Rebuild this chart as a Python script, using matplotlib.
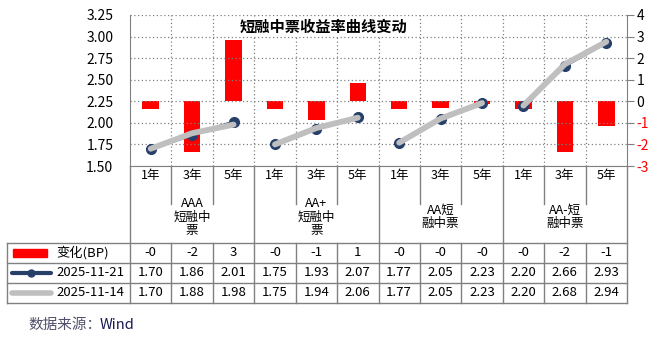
import matplotlib
matplotlib.use("Agg")
import matplotlib.pyplot as plt
from matplotlib.lines import Line2D
from matplotlib.patches import Rectangle
from matplotlib.transforms import blended_transform_factory

plt.rcParams['font.family'] = ['Noto Sans CJK SC', 'DejaVu Sans']

# data
tenors = ['1年', '3年', '5年']
groups = ['AAA\n短融中\n票', 'AA+\n短融中\n票', 'AA短\n融中票', 'AA-短\n融中票']
change_bp = [-0.37, -2.33, 2.86, -0.37, -0.88, 0.86,
             -0.37, -0.33, -0.14, -0.37, -2.33, -1.13]
yield_1121 = [1.70, 1.86, 2.01, 1.75, 1.93, 2.07,
              1.77, 2.05, 2.23, 2.20, 2.66, 2.93]
yield_1114 = [1.70, 1.88, 1.98, 1.75, 1.94, 2.06,
              1.77, 2.05, 2.23, 2.20, 2.68, 2.94]
bp_ticks = [-3, -2, -1, 0, 1, 2, 3, 4]
yield_ticks = [1.50, 1.75, 2.00, 2.25, 2.50, 2.75, 3.00, 3.25]
label_bp = '变化(BP)'
label_1121 = '2025-11-21'
label_1114 = '2025-11-14'
title = '短融中票收益率曲线变动'
source = '数据来源：'
source_name = 'Wind'

RED = '#FF0000'
NAVY = '#26406A'
GREY = '#BFBFBF'
LINE = '#808080'

W, H = 658, 344
fig = plt.figure(figsize=(W / 100, H / 100), dpi=100)


def fx(px):
    return px / W


def fy(py):
    return 1 - py / H


# plot area in pixels: x 130..627, y 15..166
ax = fig.add_axes([fx(130), fy(166), fx(627) - fx(130), fy(15) - fy(166)])
n = len(change_bp)
xs = list(range(n))

# bars (right axis scale)
ax.bar(xs, change_bp, width=0.4, color=RED, zorder=2)
ax.set_ylim(-3, 4)
ax.set_xlim(-0.5, n - 0.5)
ax.set_xticks([])

# lines (left axis scale)
ax2 = ax.twinx()
ax2.set_ylim(1.5, 3.25)

ax.yaxis.tick_right()
ax.set_yticks(bp_ticks)
ax.set_yticklabels([str(v) for v in bp_ticks])
ax.tick_params(axis='y', labelsize=10, length=5, color=LINE, pad=2)
for t, v in zip(ax.get_yticklabels(), bp_ticks):
    if v < 0:
        t.set_color(RED)
for s in ['top', 'left', 'bottom']:
    ax.spines[s].set_visible(False)
ax.spines['right'].set_color(LINE)

ax2.yaxis.tick_left()
ax2.set_yticks(yield_ticks)
ax2.set_yticklabels(['%.2f' % v for v in yield_ticks])
ax2.tick_params(axis='y', labelsize=10, length=0, pad=12)
for s in ['top', 'right']:
    ax2.spines[s].set_visible(False)
ax2.spines['left'].set_color(LINE)
ax2.spines['bottom'].set_color(LINE)

# dotted grid
for v in yield_ticks:
    ax2.axhline(v, color=LINE, lw=0.9, ls=(0, (1, 2)), zorder=0)
for i in range(n - 1):
    ax.axvline(i + 0.5, color=LINE, lw=0.9, ls=(0, (1, 2)), zorder=0)

for g in range(len(groups)):
    idx = slice(3 * g, 3 * g + 3)
    ax2.plot(xs[idx], yield_1121[idx], color=NAVY, lw=2.2, marker='o',
             ms=7, mfc=NAVY, mec=NAVY, zorder=3)
    ax2.plot(xs[idx], yield_1114[idx], color=GREY, lw=4.2,
             solid_capstyle='round', zorder=4)

fig.text(fx(323), fy(27), title, ha='center', va='center', fontsize=11,
         fontweight='bold', zorder=5,
         bbox=dict(facecolor='white', edgecolor='none', pad=1))

# data table under the chart
tr = blended_transform_factory(ax.transData, fig.transFigure)


def hline(x0, x1, py):
    fig.add_artist(Line2D([fx(x0), fx(x1)], [fy(py), fy(py)],
                          color=LINE, lw=1))


def vline_data(x, py0, py1):
    fig.add_artist(Line2D([x, x], [fy(py0), fy(py1)], color=LINE, lw=1,
                          transform=tr))


for py in [243, 263, 283, 303]:
    hline(7, 627, py)
fig.add_artist(Line2D([fx(7), fx(7)], [fy(243), fy(303)], color=LINE, lw=1))
vline_data(-0.5, 166, 303)
vline_data(n - 0.5, 166, 303)
for i in range(n - 1):
    if (i + 1) % 3 == 0:
        vline_data(i + 0.5, 166, 303)
    else:
        vline_data(i + 0.5, 166, 204)
        vline_data(i + 0.5, 243, 303)

for i in xs:
    fig.text(i, fy(176), tenors[i % 3], transform=tr, ha='center',
             va='center', fontsize=9)
    fig.text(i, fy(253), '%.0f' % change_bp[i], transform=tr, ha='center',
             va='center', fontsize=9.5)
    fig.text(i, fy(273), '%.2f' % yield_1121[i], transform=tr, ha='center',
             va='center', fontsize=9.5)
    fig.text(i, fy(293), '%.2f' % yield_1114[i], transform=tr, ha='center',
             va='center', fontsize=9.5)
for g, name in enumerate(groups):
    fig.text(3 * g + 1, fy(217), name, transform=tr, ha='center',
             va='center', fontsize=9, linespacing=1.05)

# legend column
fig.add_artist(Rectangle((fx(13), fy(257)), fx(47) - fx(13),
                         fy(249) - fy(257), color=RED))
fig.add_artist(Line2D([fx(12), fx(51)], [fy(273), fy(273)], color=NAVY,
                      lw=3, solid_capstyle='round'))
fig.add_artist(Line2D([fx(31)], [fy(273)], color=NAVY, marker='o', ms=5))
fig.add_artist(Line2D([fx(12), fx(51)], [fy(293), fy(293)], color=GREY,
                      lw=4, solid_capstyle='round'))
for py, lab in [(253, label_bp), (273, label_1121), (293, label_1114)]:
    fig.text(fx(56), fy(py), lab, ha='left', va='center', fontsize=9.5)

fig.text(fx(28), fy(325), source, ha='left', va='center', fontsize=10.5,
         color='#50506A')
fig.text(fx(100), fy(325), source_name, ha='left', va='center',
         fontsize=10.5, color='#1A1A50')

fig.savefig('out.png', dpi=100)
